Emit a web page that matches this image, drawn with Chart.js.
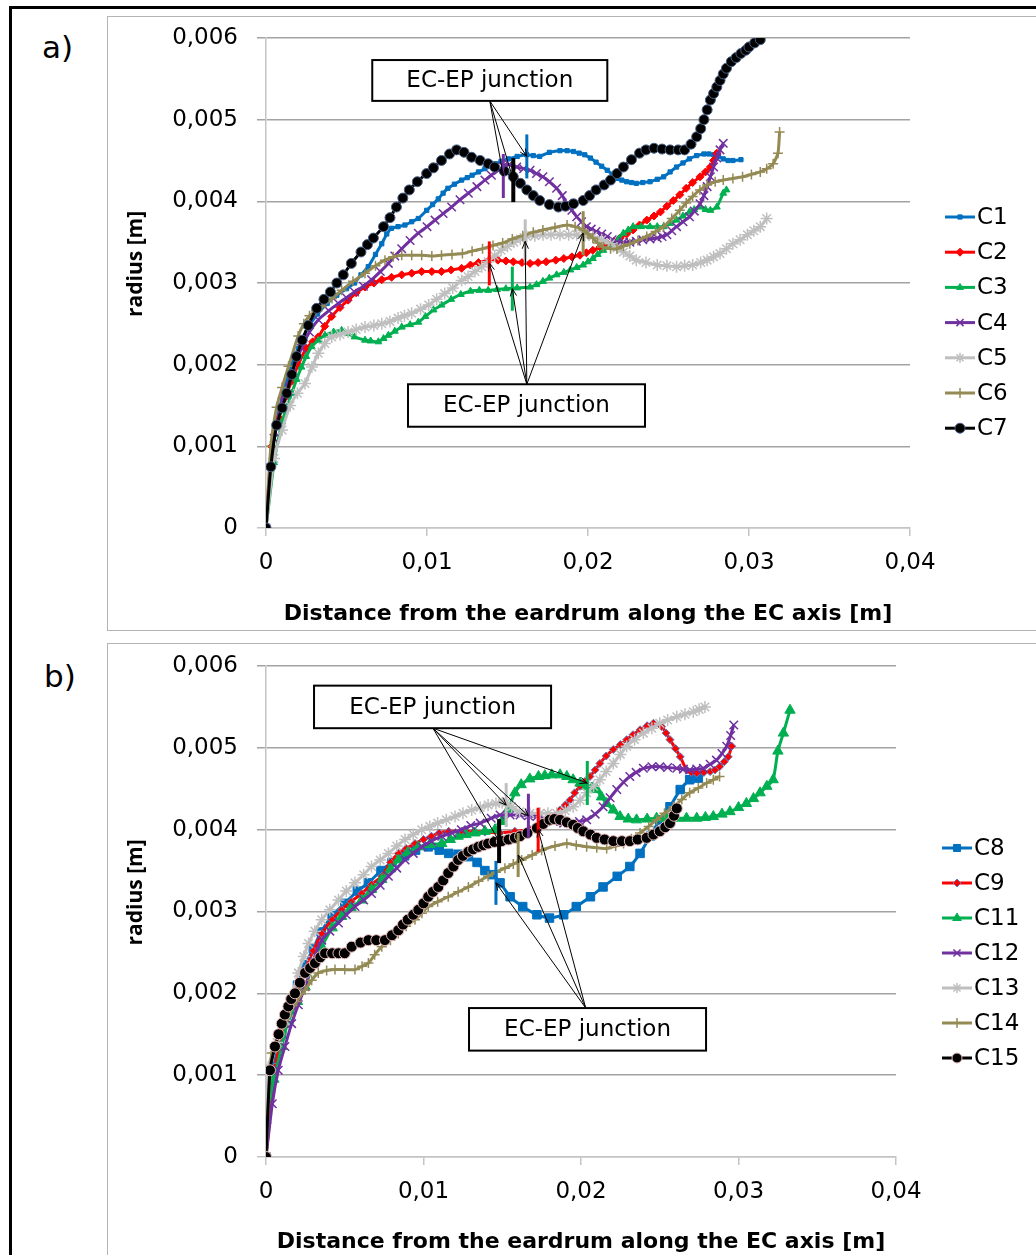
<!DOCTYPE html>
<html lang="en">
<head>
<meta charset="UTF-8">
<title>EC radius along the axis</title>
<script src="https://cdn.jsdelivr.net/npm/chart.js"></script>
<style>
  body { margin: 0; background: #fff; font-family: 'DejaVu Sans', sans-serif; }
  #page { position: relative; width: 1036px; height: 1255px; overflow: hidden; }
  .frame { position: absolute; left: 9px; top: 6px; width: 1100px; height: 1300px; border: 3px solid #000; }
  .panel { position: absolute; left: 107px; width: 1000px; border: 1px solid #b4b4b4; box-sizing: border-box; }
  .panel canvas { position: absolute; left: 0; top: 0; }
  .tag { position: absolute; font-size: 31px; line-height: 31px; color: #000; }
</style>
</head>
<body>
<div id="page">
  <div class="frame"></div>
  <div class="tag" style="left:42px; top:32px;">a)</div>
  <div class="tag" style="left:44px; top:661px;">b)</div>
  <div class="panel" style="top:16px; height:615px;"><canvas id="chartA" width="928" height="612"></canvas></div>
  <div class="panel" style="top:643px; height:700px;"><canvas id="chartB" width="928" height="611"></canvas></div>
</div>

<script>
// values in mm: [distance, radius]
const c1 = [[0,0],[0.5,1.15],[1.0,1.6],[1.5,1.95],[2.0,2.2],[2.6,2.45],[3.2,2.62],[3.8,2.75],[4.4,2.85],[5.0,2.93],[5.5,3.0],[5.9,3.1],[6.35,3.2],[6.8,3.35],[7.19,3.48],[7.5,3.6],[7.8,3.67],[8.2,3.69],[8.63,3.71],[9.05,3.75],[9.46,3.79],[9.98,3.89],[10.35,3.96],[10.7,4.03],[11.0,4.1],[11.3,4.16],[11.7,4.21],[12.15,4.26],[12.5,4.29],[12.8,4.32],[13.2,4.36],[13.6,4.4],[13.9,4.43],[14.2,4.46],[14.6,4.49],[15.05,4.52],[15.6,4.55],[16.2,4.57],[16.6,4.56],[17.0,4.55],[17.6,4.6],[18.26,4.62],[18.7,4.62],[19.1,4.61],[19.45,4.59],[19.8,4.57],[20.15,4.53],[20.5,4.48],[20.85,4.43],[21.2,4.38],[21.5,4.33],[21.8,4.28],[22.1,4.26],[22.4,4.24],[22.7,4.23],[23.0,4.22],[23.4,4.23],[23.85,4.24],[24.3,4.27],[24.7,4.3],[25.1,4.36],[25.5,4.42],[25.9,4.47],[26.3,4.52],[26.75,4.56],[27.2,4.58],[27.5,4.58],[27.8,4.57],[28.1,4.55],[28.4,4.52],[28.7,4.5],[29.0,4.5],[29.5,4.51]];
const c2 = [[0,0],[0.35,1.0],[0.8,1.35],[1.2,1.6],[1.6,1.8],[2.0,2.0],[2.5,2.2],[2.9,2.28],[3.25,2.34],[3.65,2.47],[4.08,2.59],[4.6,2.7],[5.1,2.79],[5.6,2.88],[6.15,2.95],[6.7,3.0],[7.19,3.04],[7.8,3.07],[8.43,3.1],[9.05,3.12],[9.67,3.14],[10.3,3.14],[10.9,3.14],[11.5,3.16],[12.15,3.18],[12.7,3.22],[13.2,3.25],[13.87,3.28],[14.4,3.28],[14.9,3.27],[15.36,3.26],[15.9,3.25],[16.4,3.24],[16.9,3.25],[17.4,3.26],[18.0,3.28],[18.5,3.3],[19.0,3.32],[19.5,3.34],[19.9,3.37],[20.3,3.4],[20.75,3.44],[21.2,3.48],[21.6,3.51],[22.0,3.55],[22.4,3.6],[22.8,3.65],[23.2,3.71],[23.65,3.77],[24.1,3.82],[24.5,3.87],[24.9,3.94],[25.3,4.01],[25.7,4.08],[26.1,4.16],[26.5,4.23],[26.96,4.3],[27.3,4.36],[27.6,4.42],[27.8,4.5],[28.0,4.59]];
const c3 = [[0,0],[0.5,0.8],[1.0,1.3],[1.3,1.48],[1.6,1.65],[1.9,1.82],[2.2,1.97],[2.5,2.1],[2.84,2.22],[3.25,2.3],[3.66,2.36],[4.2,2.4],[4.7,2.42],[5.1,2.38],[5.5,2.34],[6.15,2.3],[6.5,2.29],[6.98,2.28],[7.3,2.32],[7.6,2.36],[8.0,2.41],[8.43,2.46],[8.95,2.49],[9.46,2.52],[9.9,2.59],[10.4,2.67],[10.9,2.73],[11.5,2.8],[12.1,2.86],[12.7,2.9],[13.25,2.91],[13.8,2.91],[14.35,2.92],[14.9,2.93],[15.6,2.94],[16.4,2.95],[16.8,2.98],[17.2,3.02],[17.6,3.06],[18.05,3.1],[18.5,3.13],[18.9,3.16],[19.3,3.19],[19.7,3.22],[20.0,3.26],[20.3,3.3],[20.6,3.35],[20.95,3.4],[21.3,3.44],[21.6,3.48],[21.9,3.54],[22.2,3.61],[22.5,3.65],[22.8,3.69],[23.3,3.69],[23.85,3.69],[24.3,3.69],[24.7,3.69],[25.1,3.73],[25.5,3.77],[25.9,3.82],[26.3,3.87],[26.6,3.9],[26.96,3.93],[27.3,3.9],[27.6,3.89],[28.0,3.93],[28.4,4.1],[28.6,4.14]];
const c4 = [[0,0],[0.5,1.1],[1.0,1.55],[1.6,1.9],[2.2,2.2],[2.7,2.4],[3.25,2.55],[3.9,2.66],[4.5,2.75],[5.0,2.82],[5.5,2.89],[6.05,2.96],[6.56,3.04],[7.1,3.14],[7.6,3.24],[8.0,3.33],[8.43,3.42],[8.95,3.52],[9.46,3.61],[10.0,3.69],[10.5,3.77],[11.0,3.85],[11.53,3.93],[12.05,4.02],[12.57,4.1],[13.1,4.18],[13.6,4.26],[14.0,4.32],[14.43,4.38],[14.74,4.43],[15.1,4.45],[15.57,4.42],[16.0,4.4],[16.4,4.38],[16.8,4.34],[17.2,4.3],[17.6,4.24],[18.05,4.16],[18.4,4.07],[18.7,3.97],[19.0,3.89],[19.3,3.81],[19.6,3.75],[19.9,3.69],[20.2,3.66],[20.5,3.63],[20.85,3.6],[21.2,3.57],[21.5,3.53],[21.8,3.5],[22.2,3.5],[22.6,3.5],[23.0,3.51],[23.4,3.53],[23.85,3.54],[24.3,3.55],[24.6,3.57],[24.9,3.59],[25.2,3.64],[25.5,3.69],[25.9,3.75],[26.3,3.81],[26.6,3.88],[26.96,3.97],[27.2,4.07],[27.4,4.18],[27.6,4.3],[27.8,4.42],[28.0,4.53],[28.2,4.63],[28.4,4.71]];
const c5 = [[0,0],[0.5,0.85],[1.0,1.2],[1.5,1.5],[1.95,1.65],[2.42,1.77],[2.85,1.97],[3.25,2.14],[3.65,2.26],[4.08,2.34],[4.6,2.37],[5.1,2.4],[5.6,2.43],[6.15,2.46],[6.7,2.48],[7.19,2.5],[7.7,2.53],[8.2,2.57],[8.6,2.6],[9.05,2.63],[9.6,2.68],[10.1,2.73],[10.6,2.8],[11.1,2.87],[11.6,2.94],[12.15,3.03],[12.55,3.08],[12.98,3.14],[13.4,3.2],[13.8,3.26],[14.2,3.33],[14.6,3.4],[15.0,3.45],[15.4,3.5],[15.8,3.54],[16.2,3.57],[16.7,3.58],[17.2,3.59],[17.7,3.59],[18.26,3.59],[18.8,3.59],[19.3,3.59],[19.8,3.58],[20.3,3.57],[20.85,3.53],[21.4,3.48],[21.8,3.43],[22.2,3.38],[22.6,3.33],[23.0,3.28],[23.6,3.25],[24.3,3.22],[24.9,3.21],[25.5,3.2],[26.0,3.21],[26.5,3.22],[27.0,3.25],[27.4,3.28],[27.8,3.32],[28.2,3.36],[28.6,3.42],[29.0,3.48],[29.45,3.53],[29.9,3.59],[30.3,3.64],[30.7,3.69],[31.1,3.79]];
const c6 = [[0,0],[0.3,1.0],[0.66,1.48],[1.0,1.72],[1.4,1.98],[2.0,2.35],[2.35,2.5],[2.7,2.6],[3.1,2.66],[3.46,2.71],[4.1,2.81],[4.7,2.91],[5.4,3.02],[6.15,3.12],[6.8,3.21],[7.39,3.28],[7.9,3.32],[8.43,3.34],[9.05,3.34],[9.67,3.34],[10.3,3.33],[10.9,3.34],[11.55,3.35],[12.2,3.36],[12.8,3.39],[13.45,3.42],[14.1,3.46],[14.7,3.49],[15.3,3.54],[15.95,3.58],[16.6,3.62],[17.2,3.65],[17.95,3.68],[18.7,3.71],[19.2,3.69],[19.7,3.65],[20.0,3.6],[20.3,3.55],[20.6,3.49],[20.95,3.44],[21.4,3.42],[21.8,3.42],[22.2,3.45],[22.6,3.48],[23.1,3.52],[23.65,3.57],[24.2,3.63],[24.7,3.69],[25.2,3.79],[25.7,3.89],[26.1,3.98],[26.5,4.06],[26.95,4.14],[27.4,4.2],[27.9,4.24],[28.4,4.26],[29.0,4.28],[29.6,4.3],[30.15,4.33],[30.7,4.36],[31.1,4.4],[31.5,4.46],[31.8,4.59],[31.9,4.85]];
const c7 = [[0,0],[0.3,0.75],[0.66,1.26],[1.0,1.47],[1.29,1.65],[1.6,1.88],[1.9,2.1],[2.25,2.3],[2.63,2.48],[3.15,2.69],[3.6,2.8],[4.0,2.89],[4.4,3.0],[4.8,3.1],[5.3,3.24],[5.9,3.38],[6.3,3.47],[6.67,3.55],[7.3,3.69],[7.7,3.8],[8.1,3.93],[8.5,4.04],[8.9,4.14],[9.4,4.24],[9.98,4.34],[10.4,4.41],[10.9,4.5],[11.4,4.58],[11.84,4.63],[12.3,4.6],[12.77,4.54],[13.3,4.5],[13.8,4.46],[14.2,4.42],[14.8,4.37],[15.36,4.3],[15.8,4.22],[16.2,4.14],[16.6,4.07],[17.0,4.01],[17.6,3.96],[18.16,3.93],[18.6,3.94],[19.1,3.97],[19.7,4.01],[20.1,4.07],[20.5,4.14],[21.0,4.2],[21.4,4.26],[21.8,4.34],[22.2,4.42],[22.7,4.51],[23.2,4.59],[23.6,4.63],[24.1,4.65],[24.6,4.64],[25.1,4.63],[25.6,4.63],[26.0,4.63],[26.4,4.7],[26.75,4.79],[27.0,4.89],[27.2,5.0],[27.4,5.12],[27.6,5.24],[27.8,5.32],[28.0,5.4],[28.2,5.48],[28.4,5.56],[28.6,5.63],[28.9,5.71],[29.2,5.76],[29.5,5.81],[29.8,5.85],[30.0,5.89],[30.35,5.94],[30.7,5.98]];

const c8 = [[0,0],[0.5,1.1],[1.0,1.5],[1.5,1.8],[2.0,2.1],[2.5,2.35],[3.0,2.55],[3.5,2.75],[4.2,2.95],[5.0,3.1],[5.8,3.25],[6.5,3.35],[7.3,3.5],[8.0,3.6],[8.8,3.68],[9.5,3.75],[10.3,3.79],[11.0,3.75],[11.6,3.71],[12.2,3.7],[12.85,3.67],[13.4,3.6],[13.9,3.5],[14.4,3.45],[14.86,3.35],[15.5,3.18],[16.3,3.06],[17.2,2.96],[18.0,2.92],[18.9,2.96],[19.7,3.06],[20.6,3.18],[21.4,3.3],[22.3,3.43],[23.1,3.55],[23.75,3.71],[24.4,3.92],[25.0,4.12],[25.65,4.28],[26.3,4.49],[26.9,4.61],[27.45,4.63]];
const c9 = [[0,0],[0.57,1.1],[1.0,1.45],[1.42,1.72],[2.0,2.05],[2.48,2.29],[3.0,2.52],[3.54,2.73],[4.2,2.9],[4.8,3.02],[5.4,3.12],[6.08,3.22],[6.7,3.33],[7.35,3.43],[7.9,3.6],[8.4,3.71],[8.9,3.77],[9.46,3.83],[10.0,3.88],[10.5,3.92],[11.0,3.96],[11.6,3.98],[12.4,3.98],[13.2,3.98],[13.9,3.97],[14.86,3.96],[15.8,3.98],[16.76,4.0],[17.28,4.02],[17.8,4.08],[18.3,4.16],[18.67,4.24],[19.0,4.3],[19.3,4.36],[19.6,4.45],[19.94,4.53],[20.25,4.59],[20.57,4.65],[20.9,4.73],[21.2,4.81],[21.6,4.9],[22.05,4.98],[22.5,5.04],[22.9,5.1],[23.3,5.16],[23.75,5.22],[24.2,5.27],[24.6,5.3],[25.12,5.26],[25.4,5.18],[25.65,5.1],[26.0,4.99],[26.3,4.89],[26.7,4.73],[27.0,4.7],[27.35,4.69],[27.8,4.7],[28.2,4.71],[28.5,4.73],[28.8,4.77],[29.1,4.83],[29.35,4.89],[29.57,5.02]];
const c11 = [[0,0.45],[0.5,0.95],[1.0,1.35],[1.42,1.67],[2.0,1.9],[2.48,2.08],[3.0,2.35],[3.54,2.57],[4.2,2.8],[4.8,2.94],[5.4,3.05],[6.08,3.14],[6.7,3.27],[7.35,3.39],[7.9,3.52],[8.4,3.63],[9.0,3.72],[9.67,3.79],[10.4,3.82],[11.16,3.83],[11.7,3.88],[12.2,3.92],[12.7,3.94],[13.27,3.96],[13.9,3.98],[14.54,4.0],[14.97,4.1],[15.38,4.25],[15.8,4.45],[16.2,4.55],[16.75,4.62],[17.3,4.65],[17.7,4.66],[18.14,4.67],[18.67,4.67],[19.1,4.65],[19.5,4.61],[19.94,4.57],[20.36,4.53],[20.7,4.51],[21.0,4.49],[21.3,4.4],[21.63,4.32],[22.05,4.24],[22.48,4.16],[23.0,4.13],[23.53,4.12],[24.2,4.13],[24.8,4.14],[25.45,4.14],[26.08,4.14],[26.7,4.14],[27.35,4.14],[27.9,4.15],[28.4,4.16],[28.95,4.19],[29.46,4.22],[30.0,4.27],[30.5,4.32],[30.95,4.38],[31.37,4.45],[31.8,4.53],[32.2,4.61],[32.5,4.96],[32.85,5.18],[33.27,5.46]];
const c12 = [[0,0],[0.4,0.65],[0.78,1.06],[1.2,1.35],[1.63,1.63],[2.05,1.86],[2.48,2.08],[3.0,2.4],[3.54,2.65],[4.05,2.76],[4.6,2.86],[5.1,2.96],[5.65,3.06],[6.2,3.14],[6.7,3.22],[7.25,3.32],[7.77,3.43],[8.3,3.53],[8.83,3.63],[9.35,3.71],[9.89,3.79],[10.5,3.86],[11.16,3.92],[11.8,3.96],[12.4,4.0],[13.0,4.05],[13.6,4.08],[14.3,4.14],[14.86,4.18],[15.5,4.18],[16.13,4.18],[16.66,4.17],[17.2,4.16],[17.7,4.13],[18.24,4.1],[18.9,4.08],[19.5,4.08],[19.9,4.1],[20.36,4.12],[20.9,4.19],[21.4,4.28],[21.85,4.39],[22.27,4.49],[22.7,4.58],[23.1,4.65],[23.5,4.7],[23.96,4.75],[24.5,4.77],[25.0,4.77],[25.5,4.76],[26.08,4.75],[26.5,4.74],[26.9,4.73],[27.35,4.74],[27.77,4.75],[28.2,4.8],[28.6,4.85],[28.95,4.93],[29.25,5.02],[29.5,5.15],[29.7,5.28]];
const c13 = [[0,0],[0.15,1.1],[0.7,1.4],[1.2,1.67],[1.6,1.95],[2.05,2.25],[2.4,2.45],[2.7,2.61],[3.1,2.76],[3.54,2.9],[4.05,3.02],[4.6,3.14],[5.1,3.25],[5.65,3.35],[6.2,3.45],[6.7,3.55],[7.25,3.63],[7.77,3.71],[8.3,3.8],[8.83,3.88],[9.35,3.94],[9.89,4.0],[10.4,4.04],[10.9,4.08],[11.45,4.12],[12.0,4.16],[12.5,4.2],[13.06,4.24],[13.6,4.27],[14.1,4.3],[14.6,4.32],[15.0,4.33],[15.25,4.33],[15.6,4.28],[16.1,4.22],[16.75,4.2],[17.4,4.2],[17.9,4.2],[18.46,4.2],[19.0,4.23],[19.5,4.28],[19.94,4.36],[20.36,4.45],[20.8,4.53],[21.2,4.61],[21.6,4.71],[22.05,4.81],[22.5,4.92],[22.9,5.02],[23.4,5.1],[23.96,5.18],[24.5,5.24],[25.0,5.3],[25.5,5.34],[26.08,5.38],[26.6,5.41],[27.13,5.44],[27.5,5.47],[27.87,5.5]];
const c14 = [[0,0],[0.36,1.27],[0.9,1.5],[1.42,1.72],[1.95,1.9],[2.48,2.04],[2.9,2.16],[3.32,2.25],[3.85,2.28],[4.38,2.29],[5.0,2.29],[5.65,2.29],[6.1,2.33],[6.5,2.37],[6.9,2.47],[7.35,2.57],[7.9,2.65],[8.4,2.73],[8.9,2.82],[9.46,2.9],[9.9,2.98],[10.3,3.06],[10.9,3.12],[11.57,3.18],[12.2,3.24],[12.85,3.3],[13.5,3.37],[14.1,3.43],[14.6,3.48],[15.17,3.53],[15.7,3.58],[16.23,3.63],[16.9,3.69],[17.5,3.75],[18.35,3.8],[19.1,3.83],[19.7,3.81],[20.36,3.79],[21.0,3.78],[21.63,3.77],[22.2,3.8],[22.7,3.83],[23.2,3.89],[23.75,3.96],[24.3,4.04],[24.8,4.12],[25.3,4.2],[25.86,4.28],[26.4,4.37],[26.9,4.45],[27.45,4.51],[27.98,4.57],[28.4,4.61],[28.8,4.65]];
const c15 = [[0,0],[0.25,1.06],[0.57,1.35],[0.8,1.5],[1.0,1.63],[1.2,1.74],[1.42,1.84],[1.6,1.93],[1.84,2.0],[2.15,2.13],[2.48,2.25],[2.8,2.31],[3.11,2.37],[3.45,2.44],[3.75,2.49],[4.2,2.49],[4.6,2.49],[5.0,2.49],[5.44,2.57],[6.0,2.62],[6.5,2.65],[7.0,2.65],[7.55,2.65],[8.0,2.71],[8.4,2.77],[8.7,2.84],[9.0,2.9],[9.35,2.96],[9.67,3.02],[10.0,3.1],[10.3,3.18],[10.6,3.24],[10.94,3.3],[11.25,3.38],[11.57,3.47],[11.9,3.55],[12.2,3.63],[12.5,3.68],[12.85,3.73],[13.15,3.76],[13.48,3.79],[13.8,3.81],[14.1,3.83],[14.5,3.85],[14.97,3.86],[15.4,3.88],[15.8,3.9],[16.13,3.92],[16.6,3.96],[17.2,4.02],[17.6,4.07],[18.0,4.12],[18.3,4.13],[18.67,4.12],[19.1,4.09],[19.5,4.06],[19.8,4.02],[20.15,3.98],[20.6,3.94],[21.0,3.9],[21.5,3.88],[22.05,3.86],[22.6,3.86],[23.1,3.86],[23.6,3.88],[24.17,3.9],[24.6,3.94],[25.0,3.98],[25.35,4.03],[25.65,4.08],[25.9,4.17],[26.08,4.26]];

// EC-EP junction per canal, mm (distance, radius at the mark)
const juncXA = [16.2, 13.87, 15.3, 14.74, 16.1, 19.7, 15.36];
const juncYA = [4.55, 3.24, 2.93, 4.31, 3.51, 3.61, 4.26];
const juncXB = [14.6, 17.28, 20.4, 16.66, 15.25, 16.01, 14.8];
const juncYB = [3.35, 4.0, 4.57, 4.17, 4.3, 3.69, 3.86];

const xTicks = [0, 0.01, 0.02, 0.03, 0.04];
const yTicks = [0, 0.001, 0.002, 0.003, 0.004, 0.005, 0.006];

const WIDE = "'DejaVu Sans', sans-serif";
const NARROW = "'Open Sans', sans-serif";

const seriesA = [
  { label: 'C1', data: c1, color: '#0070c0', point: 'rect', r: 3 },
  { label: 'C2', data: c2, color: '#ff0000', point: 'rectRot', r: 4 },
  { label: 'C3', data: c3, color: '#00b050', point: 'triangle', r: 4 },
  { label: 'C4', data: c4, color: '#7030a0', point: 'crossRot', r: 6, bw: 1.5 },
  { label: 'C5', data: c5, color: '#bfbfbf', point: 'star', r: 6, bw: 1.5 },
  { label: 'C6', data: c6, color: '#948a54', point: 'cross', r: 5, bw: 1.5 },
  { label: 'C7', data: c7, color: '#000000', point: 'circle', r: 5, edge: '#4a5f85' }
];
const seriesB = [
  { label: 'C8', data: c8, color: '#0070c0', point: 'rect', r: 6 },
  { label: 'C9', data: c9, color: '#ff0000', point: 'rectRot', r: 4, edge: '#5b7fc0' },
  { label: 'C11', data: c11, color: '#00b050', point: 'triangle', r: 6 },
  { label: 'C12', data: c12, color: '#7030a0', point: 'crossRot', r: 6, bw: 1.5 },
  { label: 'C13', data: c13, color: '#bfbfbf', point: 'star', r: 6, bw: 1.5 },
  { label: 'C14', data: c14, color: '#948a54', point: 'cross', r: 5, bw: 1.5 },
  { label: 'C15', data: c15, color: '#000000', point: 'circle', r: 5.5, edge: '#e6b9b8' }
];

const fmt = (v, d) => v === 0 ? '0' : v.toFixed(d).replace('.', ',');

function toDatasets(series) {
  const n = series.length;
  return series.map((s, i) => ({
    label: s.label,
    data: s.data.map(p => ({ x: p[0] / 1000, y: p[1] / 1000 })),
    borderColor: s.color,
    backgroundColor: s.color,
    borderWidth: 3,
    pointStyle: s.point,
    pointRadius: s.r,
    pointBackgroundColor: s.color,
    pointBorderColor: s.edge || s.color,
    pointBorderWidth: s.bw || 1,
    tension: 0.2,
    order: n - i
  }));
}

function arrow(ctx, x0, y0, x1, y1) {
  const a = Math.atan2(y1 - y0, x1 - x0), h = 8;
  ctx.beginPath();
  ctx.moveTo(x0, y0);
  ctx.lineTo(x1, y1);
  ctx.moveTo(x1 - h * Math.cos(a - 0.4), y1 - h * Math.sin(a - 0.4));
  ctx.lineTo(x1, y1);
  ctx.lineTo(x1 - h * Math.cos(a + 0.4), y1 - h * Math.sin(a + 0.4));
  ctx.stroke();
}

// junction marks, callout boxes and the legend
const extras = {
  id: 'extras',
  afterDraw(chart, args, o) {
    const { ctx, scales: { x, y } } = chart;
    const sets = chart.data.datasets;
    ctx.save();

    // junction marks
    o.jx.forEach((jx, i) => {
      const px = x.getPixelForValue(jx / 1000);
      const py = y.getPixelForValue(o.jy[i] / 1000);
      ctx.strokeStyle = sets[i].borderColor;
      ctx.lineWidth = i === 6 ? 4 : 3;
      ctx.beginPath();
      ctx.moveTo(px, py - 22);
      ctx.lineTo(px, py + 22);
      ctx.stroke();
    });

    // callouts
    o.boxes.forEach(b => {
      const l = x.getPixelForValue(b.x1), r = x.getPixelForValue(b.x2);
      const t = y.getPixelForValue(b.y1), btm = y.getPixelForValue(b.y2);
      const ax = x.getPixelForValue(b.ax), ay = b.fromTop ? t : btm;
      ctx.strokeStyle = '#000';
      ctx.lineWidth = 1;
      b.to.forEach(i => {
        arrow(ctx, ax, ay, x.getPixelForValue(o.jx[i] / 1000), y.getPixelForValue(o.jy[i] / 1000));
      });
      ctx.fillStyle = '#fff';
      ctx.fillRect(l, t, r - l, btm - t);
      ctx.lineWidth = 2;
      ctx.strokeRect(l, t, r - l, btm - t);
      ctx.fillStyle = '#000';
      ctx.font = '23px ' + WIDE;
      ctx.textAlign = 'center';
      ctx.textBaseline = 'middle';
      ctx.fillText('EC-EP junction', (l + r) / 2, (t + btm) / 2 + 1);
    });

    // legend
    const lg = o.legend;
    sets.forEach((d, i) => {
      const cy = lg.top + i * lg.gap;
      ctx.strokeStyle = d.borderColor;
      ctx.lineWidth = 3;
      ctx.beginPath();
      ctx.moveTo(lg.left, cy);
      ctx.lineTo(lg.left + 30, cy);
      ctx.stroke();
      ctx.fillStyle = d.pointBackgroundColor;
      ctx.strokeStyle = d.pointBorderColor;
      ctx.lineWidth = d.pointBorderWidth;
      Chart.helpers.drawPoint(ctx, { pointStyle: d.pointStyle, rotation: 0, radius: Math.min(d.pointRadius, 5), borderWidth: d.pointBorderWidth }, lg.left + 15, cy);
      ctx.fillStyle = '#000';
      ctx.font = '23px ' + WIDE;
      ctx.textAlign = 'left';
      ctx.textBaseline = 'middle';
      ctx.fillText(d.label, lg.left + 32, cy + 1);
    });
    ctx.restore();
  }
};

function makeChart(id, series, jx, jy, pad, xAxisH, titleBottom, boxes, legend) {
  return new Chart(document.getElementById(id), {
    type: 'line',
    data: { datasets: toDatasets(series) },
    options: {
      responsive: false,
      animation: false,
      events: [],
      layout: { padding: pad },
      scales: {
        x: {
          type: 'linear', min: 0, max: 0.04,
          afterBuildTicks: s => { s.ticks = xTicks.map(v => ({ value: v })); },
          ticks: { color: '#000', padding: 13, maxRotation: 0, font: { family: WIDE, size: 23 }, callback: v => fmt(v, 2) },
          grid: { drawOnChartArea: false, tickLength: 8, color: '#c4c4c4', lineWidth: 1.5 },
          border: { color: '#c4c4c4', width: 1.5 },
          title: { display: true, text: 'Distance from the eardrum along the EC axis [m]', color: '#000',
                   font: { family: WIDE, size: 22, weight: 'bold' }, padding: { top: 0, bottom: titleBottom } },
          afterFit: s => { s.height = xAxisH; }
        },
        y: {
          type: 'linear', min: 0, max: 0.006,
          afterBuildTicks: s => { s.ticks = yTicks.map(v => ({ value: v })); },
          ticks: { color: '#000', padding: 19, font: { family: WIDE, size: 23 }, callback: v => fmt(v, 3) },
          grid: { tickLength: 9, lineWidth: 1.5, color: c => c.tick && c.tick.value === 0 ? '#c4c4c4' : '#a3a3a3' },
          border: { color: '#c4c4c4', width: 1.5 },
          title: { display: true, text: '       radius [m]', color: '#000',
                   font: { family: NARROW, size: 21, weight: 'bold' }, padding: { top: 15, bottom: 0 } },
          afterFit: s => { s.width = 158; s.paddingTop = 0; s.paddingBottom = 0; }
        }
      },
      plugins: {
        legend: { display: false },
        tooltip: { enabled: false },
        extras: { jx, jy, boxes, legend }
      }
    },
    plugins: [extras]
  });
}

makeChart('chartA', seriesA, juncXA, juncYA, { top: 21, right: 126, bottom: 0, left: 0 }, 101, 2,
  [
    { x1: 0.0066, x2: 0.0212, y1: 0.00573, y2: 0.00523, ax: 0.0139, fromTop: false, to: [0, 3, 6] },
    { x1: 0.00882, x2: 0.02354, y1: 0.00176, y2: 0.00124, ax: 0.0162, fromTop: true, to: [1, 2, 4, 5] }
  ],
  { left: 837, top: 200, gap: 35.2 });

makeChart('chartB', seriesB, juncXB, juncYB, { top: 22, right: 140, bottom: 0, left: 0 }, 98, 0,
  [
    { x1: 0.00305, x2: 0.0181, y1: 0.00576, y2: 0.00524, ax: 0.0106, fromTop: false, to: [6, 4, 3, 2] },
    { x1: 0.01289, x2: 0.02794, y1: 0.00182, y2: 0.0013, ax: 0.0203, fromTop: true, to: [0, 5, 1] }
  ],
  { left: 834, top: 204, gap: 35 });
</script>
</body>
</html>
